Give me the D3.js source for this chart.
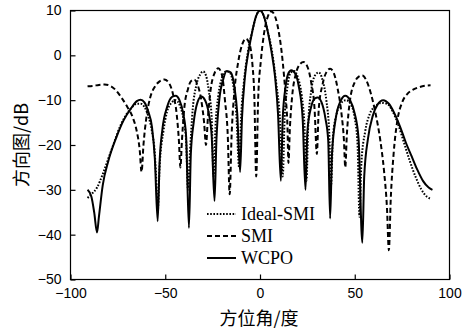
<!DOCTYPE html>
<html>
<head>
<meta charset="utf-8">
<script src="https://cdn.jsdelivr.net/npm/d3@7"></script>
<style>
  html, body { margin: 0; padding: 0; background: #fff; }
  svg { display: block; }
</style>
</head>
<body>
<svg id="chart" width="470" height="329"></svg>
<script>
// Beam patterns versus azimuth: [angle (deg), gain (dB)]
const idealSmi = [
  [-91,-31.8],[-89,-31],[-86,-29.5],[-83,-26.5],[-80,-23],[-77,-19.5],[-74,-16],[-71,-13.5],
  [-68,-11.8],[-65,-10.8],[-63,-10.8],[-61,-11.5],[-59,-13.5],[-57,-17],[-55.5,-22],[-54.5,-30],
  [-54,-35],[-53,-25],[-51,-17],[-49,-12.5],[-46.5,-10.5],[-44.5,-10],[-42.5,-11],[-40.5,-14],
  [-39,-19],[-38,-30],[-37,-22],[-35.5,-12],[-33.5,-6.5],[-31.5,-4.2],[-30,-3.6],[-28.5,-4.5],
  [-27,-8],[-25.5,-14],[-24.5,-27],[-23.5,-16],[-22,-9],[-20,-5],[-18,-3.6],[-16,-3.8],
  [-14,-7],[-12.5,-13],[-11,-25],[-10,-14],[-8.5,-6],[-6.5,0.5],[-4,5.5],[-2,8.8],[0,10],
  [2,8.8],[4,5.5],[6.5,0.5],[8.5,-6],[10.5,-14],[12,-27],[13,-14],[14.5,-7],[16,-4],[18,-3.5],
  [20,-5],[22,-9],[23.5,-16],[24.5,-28],[25.5,-15],[27,-8],[29,-4.5],[31,-3.8],[33,-5.5],
  [35,-10],[36.5,-17],[37.5,-29],[38.5,-18],[40.5,-13],[43,-10.5],[45.5,-10],[48,-11],
  [50,-14],[51.5,-20],[52.5,-36],[53.5,-24],[55.5,-17],[58,-13],[61,-11.3],[64,-10.6],
  [67,-10.8],[70,-12.5],[73,-15.5],[76,-19.5],[79,-23.5],[82,-27],[85,-29.8],[88,-31.5],[90,-32]
];

const smi = [
  [-91,-6.9],[-88,-6.8],[-85,-6.6],[-82,-6.5],[-79,-6.8],[-76,-7.8],[-73,-9.5],[-70,-11.5],
  [-67,-14],[-65,-17],[-63.5,-21],[-62.5,-26],[-61.5,-20],[-60,-14],[-58,-9.5],[-55.5,-7],
  [-53,-5.8],[-50.5,-5.4],[-48,-6.2],[-46,-8.5],[-44,-13],[-42.8,-19],[-42,-25],[-41.2,-19],
  [-40,-12],[-38,-7.5],[-36.5,-5.8],[-34.7,-5.4],[-33,-6.5],[-31,-10],[-29.5,-15],[-28.5,-20],
  [-27.5,-14],[-26,-7.5],[-24,-4],[-22,-2.9],[-20,-4.5],[-18.5,-10],[-17,-18],[-16,-31],
  [-15,-18],[-13.5,-8],[-11.5,-1.5],[-9.5,2.3],[-7.4,3.7],[-5.5,2.5],[-4,-2],[-3,-9],[-2,-27],
  [-1,-10],[0.5,-1],[2,4.5],[4,8.5],[6,9.8],[8,8.6],[10,5],[12,-1.5],[13.5,-9],[14.5,-16],
  [15,-24],[15.8,-16],[17,-9],[19,-4],[21,-2],[23,-1.5],[25,-2.5],[27,-6],[28.8,-12],[30,-22],
  [31,-12],[33,-6.5],[35,-3.8],[37,-3],[39,-4],[41,-7.5],[43,-13],[44.3,-19],[45,-25],[45.8,-18],
  [47.5,-10],[50,-6],[52,-4.8],[54,-4.5],[56,-5.5],[58.5,-8.5],[61,-13],[63.5,-19],[65.5,-26],
  [67,-34],[68,-43.5],[69,-32],[70.5,-22],[72.5,-14.5],[75,-10.5],[78,-8.5],[81,-7.6],
  [84,-7.1],[87,-6.8],[90,-6.7]
];

const wcpo = [
  [-91,-30],[-89,-31.5],[-87.5,-35],[-86,-39.5],[-85,-36],[-83,-29],[-80,-23.5],[-76,-18.5],
  [-72,-14.5],[-68,-11.8],[-65,-10.2],[-63,-9.9],[-61,-10.5],[-59,-12.5],[-57,-16],[-55.5,-23],
  [-54,-37],[-53,-24],[-51.5,-16.5],[-49,-11.5],[-46.5,-9.3],[-44.5,-9],[-42.5,-10],[-40.5,-13],
  [-39,-18],[-37.5,-38.5],[-36.5,-22],[-35,-15],[-33,-10.5],[-31,-9.2],[-29,-10],[-27,-13],
  [-25.5,-18],[-24,-32.5],[-23,-19],[-21.5,-10],[-19.5,-5.5],[-17.5,-3.5],[-15.5,-3.8],
  [-13.5,-7],[-12,-13],[-10.5,-26],[-9.5,-14],[-8,-5],[-6,1],[-4,5.5],[-2,8.8],[0,10],[2,8.8],
  [4,5.5],[6,1],[8,-5],[9.5,-13],[11,-28],[12,-14],[13.5,-7],[15,-4],[16.5,-3.3],[18.5,-4],
  [20.5,-7],[22.5,-14],[24,-30],[25,-17],[27,-11.5],[29,-9.6],[30.5,-9.4],[32.5,-10.5],
  [34.5,-14],[36,-19],[37,-36.4],[38,-22],[40,-14],[42.5,-10.2],[45,-9],[47.5,-10],[50,-13],
  [52,-18.5],[54,-41.8],[55,-27],[57,-18.5],[59.5,-13.5],[62,-11],[65,-10],[68,-10.8],[71,-13],
  [74,-16],[77,-19.5],[80,-22.5],[83,-25.5],[86,-28],[89,-29.5],[91,-30]
];

const xTicks = [-100, -50, 0, 50, 100];
const yTicks = [10, 0, -10, -20, -30, -40, -50];
const seriesNames = ["Ideal-SMI", "SMI", "WCPO"];

const svg = d3.select("#chart");
const plot = { left: 70.5, right: 449.5, top: 10.5, bottom: 279.5 };

const x = d3.scaleLinear().domain([-100, 100]).range([plot.left, plot.right]);
const y = d3.scaleLinear().domain([-50, 10]).range([plot.bottom, plot.top]);

const tickFont = "'Liberation Sans', Arial, sans-serif";

// Plot frame
svg.append("rect")
  .attr("x", plot.left).attr("y", plot.top)
  .attr("width", plot.right - plot.left).attr("height", plot.bottom - plot.top)
  .attr("fill", "none").attr("stroke", "#000").attr("stroke-width", 1.2);

// Bottom axis, ticks pointing into the plot
const xAxis = svg.append("g")
  .attr("transform", `translate(0,${plot.bottom})`)
  .call(d3.axisBottom(x).tickValues(xTicks).tickSizeInner(-5).tickSizeOuter(0).tickPadding(9)
    .tickFormat(d3.format("d")));
xAxis.select(".domain").remove();
xAxis.selectAll("text").attr("font-family", tickFont).attr("font-size", 14).attr("fill", "#000");
xAxis.selectAll("line").attr("stroke", "#000").attr("stroke-width", 1.2);

// Left axis, ticks pointing into the plot
const yAxis = svg.append("g")
  .attr("transform", `translate(${plot.left},0)`)
  .call(d3.axisLeft(y).tickValues(yTicks).tickSizeInner(-5).tickSizeOuter(0).tickPadding(9)
    .tickFormat(d3.format("d")));
yAxis.select(".domain").remove();
yAxis.selectAll("text").attr("font-family", tickFont).attr("font-size", 14).attr("fill", "#000");
yAxis.selectAll("line").attr("stroke", "#000").attr("stroke-width", 1.2);

// Axis titles
svg.append("text")
  .attr("x", 259).attr("y", 325)
  .attr("text-anchor", "middle")
  .attr("font-family", "'Noto Sans CJK SC', sans-serif")
  .attr("font-size", 18).attr("fill", "#000")
  .text("方位角/度");

svg.append("text")
  .attr("transform", "translate(28,145) rotate(-90)")
  .attr("text-anchor", "middle")
  .attr("font-family", "'Noto Sans CJK SC', sans-serif")
  .attr("font-size", 18).attr("fill", "#000")
  .text("方向图/dB");

// Curves
const line = d3.line()
  .x(d => x(d[0]))
  .y(d => y(d[1]))
  .curve(d3.curveMonotoneX);

const styles = [
  { data: idealSmi, dash: "1.6,1.6", width: 2 },
  { data: smi, dash: "5,3", width: 2 },
  { data: wcpo, dash: null, width: 2 }
];

const clip = svg.append("clipPath").attr("id", "plot-clip")
  .append("rect")
  .attr("x", plot.left).attr("y", plot.top)
  .attr("width", plot.right - plot.left).attr("height", plot.bottom - plot.top);

const curves = svg.append("g").attr("clip-path", "url(#plot-clip)");
styles.forEach(s => {
  curves.append("path")
    .attr("d", line(s.data))
    .attr("fill", "none")
    .attr("stroke", "#000")
    .attr("stroke-width", s.width)
    .attr("stroke-dasharray", s.dash)
    .attr("stroke-linejoin", "round");
});

// Legend
const legend = svg.append("g").attr("transform", "translate(207,214)");
seriesNames.forEach((name, i) => {
  const g = legend.append("g").attr("transform", `translate(0,${i * 22})`);
  g.append("line")
    .attr("x1", 0).attr("x2", 29).attr("y1", 0).attr("y2", 0)
    .attr("stroke", "#000").attr("stroke-width", 2)
    .attr("stroke-dasharray", styles[i].dash);
  g.append("text")
    .attr("x", 34).attr("y", 6)
    .attr("font-family", "'Liberation Serif', 'Times New Roman', serif")
    .attr("font-size", 18).attr("fill", "#000")
    .text(name);
});
</script>
</body>
</html>
